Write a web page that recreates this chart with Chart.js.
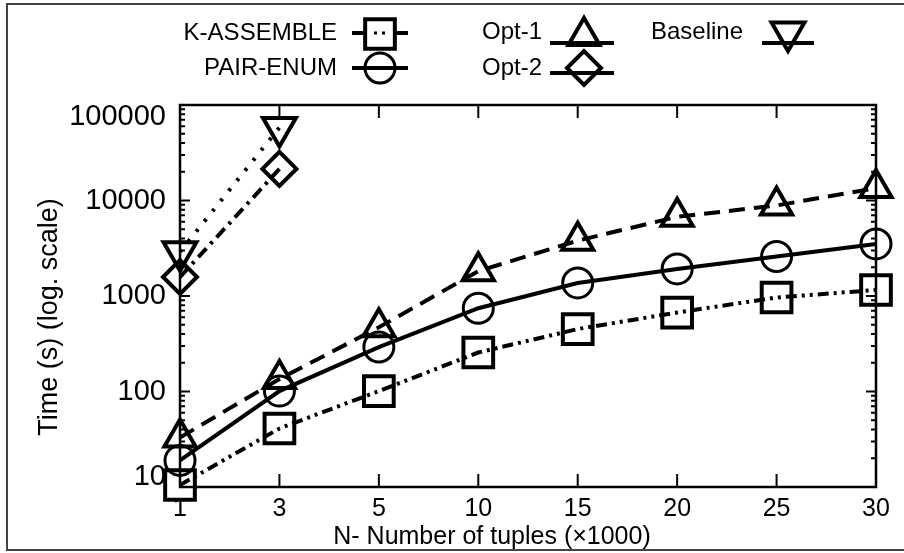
<!DOCTYPE html>
<html>
<head>
<meta charset="utf-8">
<script src="https://cdn.jsdelivr.net/npm/chart.js@4"></script>
<style>
  body { margin: 0; background: #fff; }
  #wrap { position: relative; width: 904px; height: 553px; }
</style>
</head>
<body>
<div id="wrap"><canvas id="timeChart"></canvas></div>
<script>
// Data
const tupleLabels = ['1', '3', '5', '10', '15', '20', '25', '30'];
const kAssemble = [10.5, 41, 101, 256, 451, 671, 964, 1156];
const pairEnum = [19, 101, 292, 745, 1370, 1920, 2590, 3510];
const opt1 = [33, 135, 470, 1820, 3800, 6750, 8870, 13500];
const opt2 = [1580, 21400, null, null, null, null, null, null];
const baseline = [2900, 58000, null, null, null, null, null, null];
const yTicks = [10, 100, 1000, 10000, 100000];

const FONT = "'Liberation Sans', Arial, sans-serif";

// Frame, inward ticks, tick labels, titles and the legend
const framePlugin = {
    id: 'framePlugin',
    afterDraw(chart) {
        const ctx = chart.ctx;
        const area = chart.chartArea;
        const xs = chart.scales.x;
        const ys = chart.scales.y;
        ctx.save();

        // outer picture border
        ctx.strokeStyle = '#444';
        ctx.lineWidth = 2;
        ctx.beginPath();
        ctx.moveTo(904, 4); ctx.lineTo(7, 4); ctx.lineTo(7, 550); ctx.lineTo(904, 550);
        ctx.stroke();

        // plot frame
        ctx.strokeStyle = '#000';
        ctx.lineWidth = 2.5;
        ctx.strokeRect(area.left, area.top, area.right - area.left, area.bottom - area.top);

        // x ticks, inward from bottom and top
        ctx.lineWidth = 2;
        ctx.beginPath();
        for (let i = 1; i < tupleLabels.length - 1; i++) {
            const x = xs.getPixelForTick(i);
            ctx.moveTo(x, area.bottom); ctx.lineTo(x, area.bottom - 13);
            ctx.moveTo(x, area.top); ctx.lineTo(x, area.top + 13);
        }
        // y ticks, major and minor, inward from left and right
        for (let d = 0; d < yTicks.length; d++) {
            for (let m = 1; m <= 9; m++) {
                const v = yTicks[d] * m;
                if (v > yTicks[yTicks.length - 1]) break;
                const y = ys.getPixelForValue(v);
                const len = m === 1 ? 10 : 5;
                ctx.moveTo(area.left, y); ctx.lineTo(area.left + len, y);
                ctx.moveTo(area.right, y); ctx.lineTo(area.right - len, y);
            }
        }
        ctx.stroke();

        // tick labels
        ctx.fillStyle = '#000';
        ctx.font = '29px ' + FONT;
        ctx.textAlign = 'right';
        ctx.textBaseline = 'middle';
        yTicks.forEach(v => {
            let y = ys.getPixelForValue(v);
            y = Math.min(Math.max(y, area.top + 12), area.bottom - 10);
            ctx.fillText(String(v), area.left - 14, y);
        });
        ctx.font = '25px ' + FONT;
        ctx.textAlign = 'center';
        tupleLabels.forEach((t, i) => {
            ctx.fillText(t, xs.getPixelForTick(i), area.bottom + 22);
        });

        // axis titles
        ctx.font = '25px ' + FONT;
        ctx.fillText('N- Number of tuples (\u00d71000)', 492, 537);
        ctx.save();
        ctx.translate(50, 317);
        ctx.rotate(-Math.PI / 2);
        ctx.font = '27px ' + FONT;
        ctx.fillText('Time (s) (log. scale)', 0, 0);
        ctx.restore();

        // legend: text right aligned, line sample with marker to the right
        const items = [
            { ds: 0, tx: 337, ty: 33, x1: 352, x2: 408, ly: 33, mx: 380, my: 34 },
            { ds: 1, tx: 337, ty: 68, x1: 352, x2: 408, ly: 68, mx: 380, my: 68 },
            { ds: 2, tx: 542, ty: 32, x1: 550, x2: 614, ly: 43, mx: 584, my: 36 },
            { ds: 3, tx: 542, ty: 68, x1: 550, x2: 614, ly: 73, mx: 584, my: 68 },
            { ds: 4, tx: 743, ty: 32, x1: 762, x2: 814, ly: 43, mx: 788, my: 32 }
        ];
        items.forEach(it => {
            const ds = chart.data.datasets[it.ds];
            ctx.font = '24px ' + FONT;
            ctx.textAlign = 'right';
            ctx.fillStyle = '#000';
            ctx.fillText(ds.label, it.tx, it.ty);
            ctx.strokeStyle = '#000';
            ctx.lineWidth = 4;
            ctx.beginPath();
            if (it.ds === 0) {
                // solid ends, dots showing inside the square
                ctx.moveTo(it.x1, it.ly); ctx.lineTo(it.mx - 14, it.ly);
                ctx.moveTo(it.mx + 14, it.ly); ctx.lineTo(it.x2, it.ly);
            } else {
                ctx.moveTo(it.x1, it.ly); ctx.lineTo(it.x2, it.ly);
            }
            ctx.stroke();
            if (it.ds === 0) {
                ctx.fillRect(it.mx - 6, it.ly - 1.5, 3, 3);
                ctx.fillRect(it.mx + 2, it.ly - 1.5, 3, 3);
            }
            ctx.fillStyle = 'rgba(0,0,0,0)';
            ctx.lineWidth = ds.pointBorderWidth;
            Chart.helpers.drawPoint(ctx, {
                pointStyle: ds.pointStyle,
                radius: ds.pointRadius,
                rotation: ds.pointRotation || 0,
                borderWidth: ds.pointBorderWidth
            }, it.mx, it.my);
        });

        ctx.restore();
    }
};

function series(label, data, dash, style, radius, bw, rotation) {
    return {
        label: label,
        data: data,
        borderColor: '#000',
        borderWidth: 4,
        borderDash: dash,
        pointStyle: style,
        pointRadius: radius,
        pointHoverRadius: radius,
        pointRotation: rotation || 0,
        pointBorderColor: '#000',
        pointBackgroundColor: 'rgba(0,0,0,0)',
        pointBorderWidth: bw,
        tension: 0,
        fill: false,
        clip: false
    };
}

new Chart(document.getElementById('timeChart').getContext('2d'), {
    type: 'line',
    data: {
        labels: tupleLabels,
        datasets: [
            series('K-ASSEMBLE', kAssemble, [11, 5, 3, 5, 3, 5], 'rect', 21, 4),
            series('PAIR-ENUM', pairEnum, [], 'circle', 15, 3),
            series('Opt-1', opt1, [16, 9], 'triangle', 18, 4),
            series('Opt-2', opt2, [12, 6, 3, 6], 'rectRot', 17, 4),
            series('Baseline', baseline, [3, 10], 'triangle', 19, 4, 180)
        ]
    },
    options: {
        responsive: true,
        maintainAspectRatio: false,
        animation: false,
        layout: { padding: { left: 180, right: 28, top: 105, bottom: 66 } },
        scales: {
            x: { type: 'category', offset: false, display: false },
            y: { type: 'logarithmic', min: 10, max: 100000, display: false }
        },
        plugins: {
            legend: { display: false },
            tooltip: { enabled: false }
        }
    },
    plugins: [framePlugin]
});
</script>
</body>
</html>
